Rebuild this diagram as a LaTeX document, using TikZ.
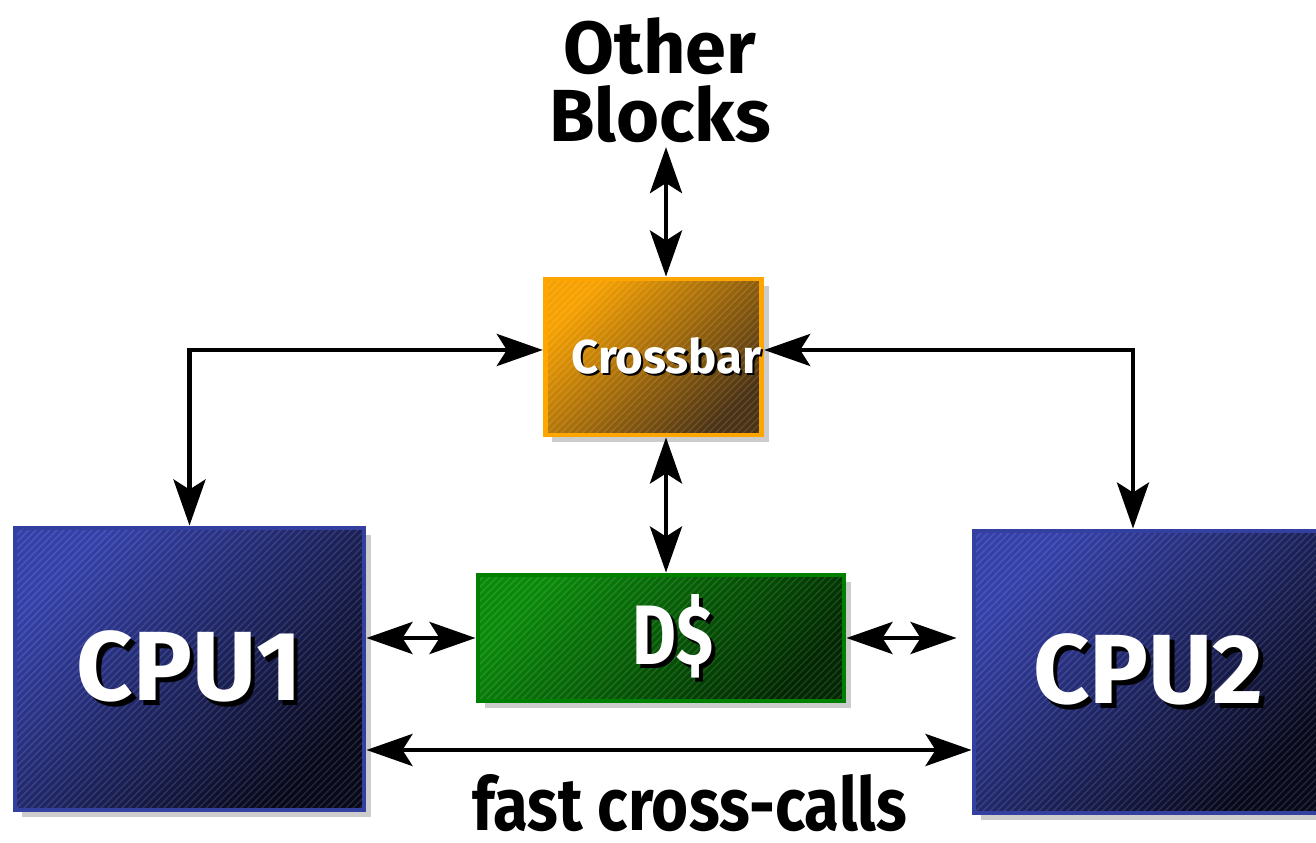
\documentclass[tikz,border=0pt]{standalone}
\usepackage{fontspec}
\setmainfont{Fira Sans}
\usetikzlibrary{arrows.meta,shadows}

\definecolor{cpuedge}{HTML}{3340A0}
\definecolor{cputop}{HTML}{3541AA}
\definecolor{cpumid}{HTML}{262E85}
\definecolor{cpulow}{HTML}{07081A}
\definecolor{dcedge}{HTML}{008000}
\definecolor{dctop}{HTML}{0A8A0A}
\definecolor{dcmid}{HTML}{066206}
\definecolor{dclow}{HTML}{012801}
\definecolor{xbedge}{HTML}{FFA500}
\definecolor{xbtop}{HTML}{F7A100}
\definecolor{xbmid}{HTML}{B47212}
\definecolor{xblow}{HTML}{4A3214}

\newcommand{\shtext}[1]{\rlap{\kern0.045em\raisebox{-0.045em}{\color{black}#1}}{\color{white}#1}}

\tikzset{
  link/.style={{Stealth[length=4.6mm,width=3.2mm,inset=1mm]}-{Stealth[length=4.6mm,width=3.2mm,inset=1mm]}, line width=1.3pt},
  box/.style={draw, line width=1.4pt, inner sep=0pt,
    drop shadow={shadow xshift=0.07cm, shadow yshift=-0.07cm, fill=black!20, opacity=1},
    path picture={
      \foreach \k in {-45,...,55}
        \draw[white, draw opacity=0.13, line width=0.35pt]
          ([xshift=\k*0.07cm]path picture bounding box.south west) -- ++(3.2,3.2);
    }},
  cpu box/.style={box, draw=cpuedge, top color=cputop, middle color=cpumid, bottom color=cpulow, shading angle=45,
    minimum width=3.49cm, minimum height=2.82cm, font=\bfseries\fontsize{28}{30}\selectfont},
  cache box/.style={box, draw=dcedge, top color=dctop, middle color=dcmid, bottom color=dclow, shading angle=45,
    minimum width=3.66cm, minimum height=1.26cm, font=\bfseries\fontsize{24}{28}\selectfont\addfontfeatures{FakeStretch=0.8}},
  xbar box/.style={box, draw=xbedge, top color=xbtop, middle color=xbmid, bottom color=xblow, shading angle=45,
    minimum width=2.13cm, minimum height=1.56cm, font=\bfseries\fontsize{13.5}{16}\selectfont},
  label text/.style={font=\bfseries\fontsize{21}{19.5}\selectfont, align=center, inner sep=1pt}
}

\begin{document}
\begin{tikzpicture}
\useasboundingbox (0,0) rectangle (13.16,8.43);
\clip (0,0) rectangle (13.16,8.43);
%boxes
\node[cpu box] (cpu1) at (1.895,1.74) {\shtext{CPU1}};
\node[cpu box] (cpu2) at (11.485,1.71) {\shtext{CPU2}};
\node[cache box] (dcache) at (6.61,2.05) {\hspace*{0.24cm}\shtext{D\$}};
\node[xbar box] (xbar) at (6.535,4.86) {\hspace*{0.26cm}\shtext{Crossbar}};
\node[label text] (blocks) at (6.6,7.63) {Other\\Blocks};
\node[label text, inner sep=0pt, font=\bfseries\fontsize{21}{19.5}\selectfont\addfontfeatures{FakeStretch=0.86}] (calls) at (6.9,0.40) {fast cross-calls};
\coordinate (bus) at (6.66,0);
%links
\draw[link] (blocks.south -| bus) -- (xbar.north -| bus);
\draw[link] (xbar.south -| bus) -- (dcache.north -| bus);
\draw[link] (cpu1.north) |- ([yshift=0.07cm]xbar.west);
\draw[link] ([yshift=0.07cm]xbar.east) -| ([xshift=-0.155cm]cpu2.north);
\draw[link] (cpu1.east |- dcache.west) -- (dcache.west);
\draw[link, shorten >=1.5mm] (dcache.east) -- (dcache.east -| cpu2.west);
\draw[link] ([yshift=-0.81cm]cpu1.east) -- ([yshift=-0.81cm]cpu1.east -| cpu2.west);
\end{tikzpicture}
\end{document}
